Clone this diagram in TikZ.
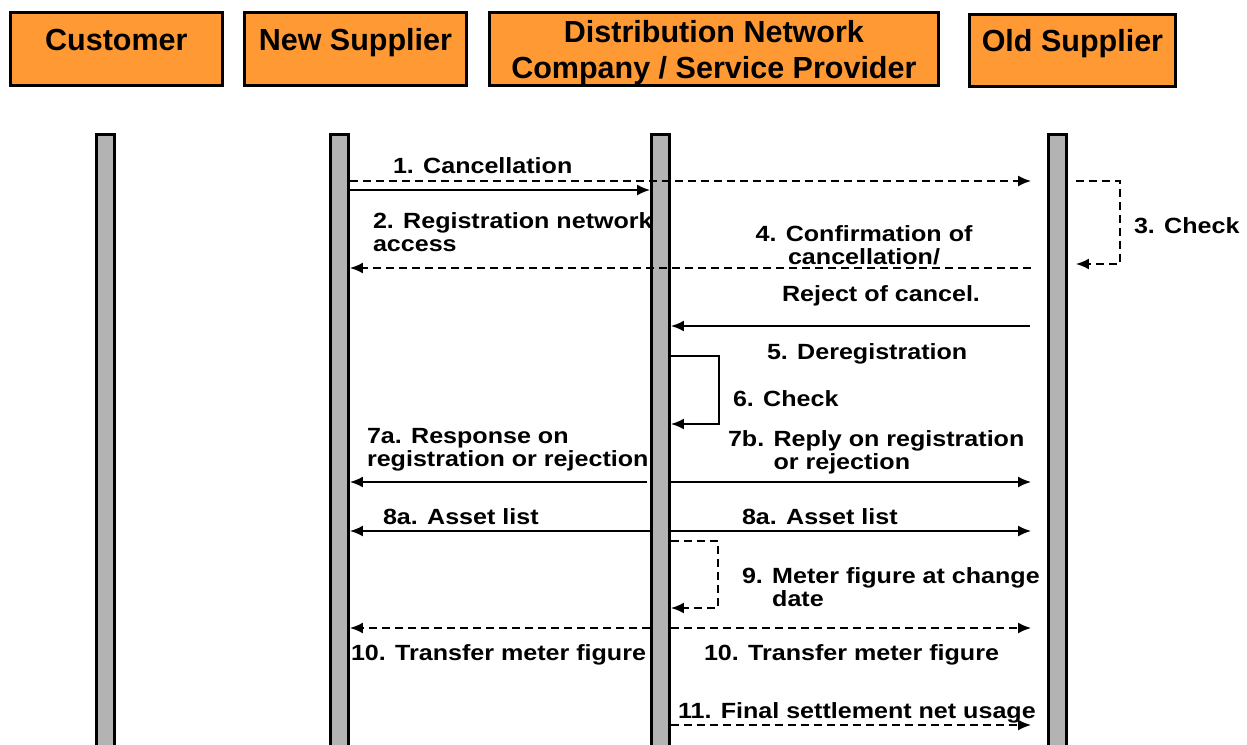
\documentclass[tikz,border=0pt]{standalone}
\usepackage{fontspec}
\setmainfont{Liberation Sans}
\newfontfamily\msgfont[FakeStretch=1.14]{Liberation Sans}
\usepackage{tikz}
\usetikzlibrary{arrows.meta}
\definecolor{actorfill}{RGB}{255,153,51}
\definecolor{barfill}{RGB}{179,179,179}
\tikzstyle{every node}=[font=\bfseries]
\tikzstyle{head}=[draw, line width=2.8pt, fill=actorfill, minimum height=73pt, inner sep=0pt, anchor=north west, font=\fontsize{30.5}{36}\selectfont\bfseries]
\tikzstyle{lifeline}=[draw, line width=2.8pt, fill=barfill, minimum width=18pt, minimum height=625pt, inner sep=0pt, anchor=north]
\tikzstyle{msglabel}=[inner sep=0pt, anchor=north west, align=left, font=\msgfont\fontsize{22}{23}\selectfont\bfseries]
\tikzstyle{async}=[dash pattern=on 8pt off 5pt]

\begin{document}
\begin{tikzpicture}[x=1pt, y=-1pt, >={Latex[length=13pt,width=11pt]}, line width=2pt]
    \useasboundingbox (0,0) rectangle (1247,744);
    % actors
    \node [head, minimum width=212pt, text height=22pt, text depth=19pt] (cust) at (9,11) {Customer};
    \node [head, minimum width=222pt, text height=22pt, text depth=19pt] (newsup) at (243,11) {New Supplier};
    \node [head, minimum width=449pt, align=center] (dno) at (488,11) {\rule{0pt}{30pt}Distribution Network\\Company / Service Provider};
    \node [head, minimum width=206pt, minimum height=72pt, text height=22pt, text depth=19pt] (oldsup) at (968,13) {Old Supplier};
    % lifelines
    \node [lifeline] (llcust) at (105.5,133) {};
    \node [lifeline] (llnew) at (339.5,133) {};
    \node [lifeline] (lldno) at (660.5,133) {};
    \node [lifeline] (llold) at (1057.5,133) {};
    % message levels
    \coordinate (m1) at (0,181);
    \coordinate (m2) at (0,190);
    \coordinate (m4) at (0,268);
    \coordinate (m5) at (0,326);
    \coordinate (m7) at (0,482);
    \coordinate (m8) at (0,531);
    \coordinate (m10) at (0,628);
    \coordinate (m11) at (0,725);
    \coordinate (chk3) at (1120,264);
    \coordinate (chk6a) at (719,356);
    \coordinate (chk6b) at (719,424);
    \coordinate (chk9a) at (718,541);
    \coordinate (chk9b) at (718,608);

    \draw [->, async, shorten >=16pt] (llnew.east |- m1) -- (llold.west |- m1);
    \node [msglabel] (l1) at (392,157) {1. Cancellation};
    \draw [->] (llnew.east |- m2) -- (lldno.west |- m2);
    \node [msglabel] (l2) at (372,212) {2. Registration network\\access};
    \draw [->, async] ([xshift=8pt]llold.east |- m1) -| (chk3) -- ([xshift=8pt]llold.east |- chk3);
    \node [msglabel] (l3) at (1133,217) {3. Check};
    \draw [->, async, shorten <=16pt] (llold.west |- m4) -- (llnew.east |- m4);
    \node [msglabel, anchor=north, align=center] (l4) at (864,225) {4. Confirmation of\\cancellation/};
    \node [msglabel, anchor=north] (l4b) at (881,285) {Reject of cancel.};
    \draw [->, shorten <=17pt] (llold.west |- m5) -- (lldno.east |- m5);
    \node [msglabel] (l5) at (766,343) {5. Deregistration};
    \draw [->] (lldno.east |- chk6a) -- (chk6a) -- (chk6b) -- (lldno.east |- chk6b);
    \node [msglabel] (l6) at (732,390) {6. Check};
    \draw [->, shorten <=3pt] (lldno.west |- m7) -- (llnew.east |- m7);
    \node [msglabel] (l7a) at (366,427) {7a. Response on\\registration or rejection};
    \draw [->, shorten >=16pt] (lldno.east |- m7) -- (llold.west |- m7);
    \node [msglabel] (l7b) at (727,430) {7b. Reply on registration\\\phantom{7b. }or rejection};
    \draw [->] (lldno.west |- m8) -- (llnew.east |- m8);
    \node [msglabel] (l8a) at (382,508) {8a. Asset list};
    \draw [->, shorten >=16pt] (lldno.east |- m8) -- (llold.west |- m8);
    \node [msglabel] (l8b) at (741,508) {8a. Asset list};
    \draw [->, async] (lldno.east |- chk9a) -- (chk9a) -- (chk9b) -- (lldno.east |- chk9b);
    \node [msglabel] (l9) at (741,567) {9. Meter figure at change\\\phantom{9. }date};
    \draw [->, async] (lldno.west |- m10) -- (llnew.east |- m10);
    \node [msglabel] (l10a) at (350,644) {10. Transfer meter figure};
    \draw [->, async, shorten >=16pt] (lldno.east |- m10) -- (llold.west |- m10);
    \node [msglabel] (l10b) at (703,644) {10. Transfer meter figure};
    \draw [->, async, shorten >=16pt] (lldno.east |- m11) -- (llold.west |- m11);
    \node [msglabel] (l11) at (677,702) {11. Final settlement net usage};
\end{tikzpicture}
\end{document}
